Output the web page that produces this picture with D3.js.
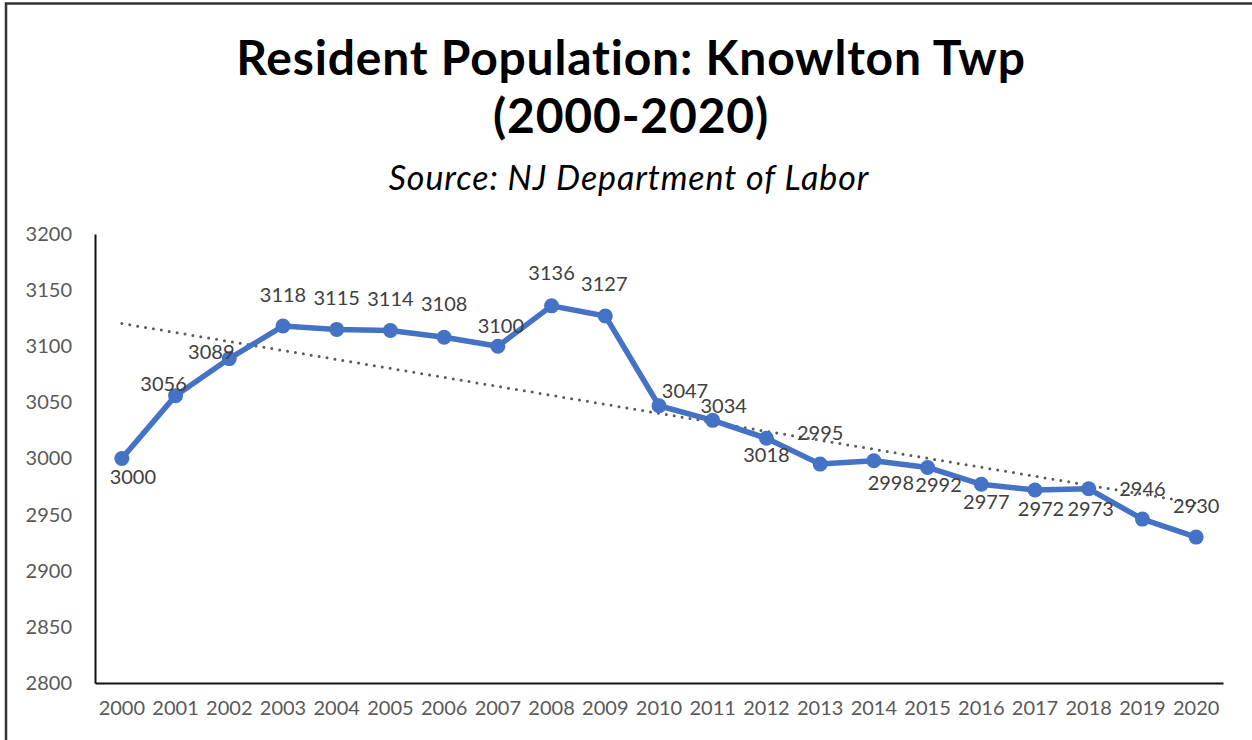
<!DOCTYPE html>
<html>
<head>
<meta charset="utf-8">
<script src="https://cdn.jsdelivr.net/npm/d3@7"></script>
<style>
    body { margin: 0; background: #fff; }
    text { font-family: Lato, "Open Sans", sans-serif; font-variant-ligatures: none; }
</style>
</head>
<body>
<div id="chart"></div>
<script>
const years = ["2000", "2001", "2002", "2003", "2004", "2005", "2006", "2007", "2008", "2009", "2010",
    "2011", "2012", "2013", "2014", "2015", "2016", "2017", "2018", "2019", "2020"];
const population = [3000, 3056, 3089, 3118, 3115, 3114, 3108, 3100, 3136, 3127, 3047,
    3034, 3018, 2995, 2998, 2992, 2977, 2972, 2973, 2946, 2930];
const yTicks = [2800, 2850, 2900, 2950, 3000, 3050, 3100, 3150, 3200];

const titleLines = ["Resident Population: Knowlton Twp", "(2000-2020)"];
const subtitle = "Source: NJ Department of Labor";

// where Excel put each data label, relative to its point
const labelOffset = {
    "2000": [11, 18], "2001": [-12, -12], "2002": [-18, -7], "2003": [0, -31], "2004": [0, -31],
    "2005": [0, -32], "2006": [0, -33], "2007": [3, -20], "2008": [0, -33], "2009": [-1, -32],
    "2010": [26, -15], "2011": [11, -14], "2012": [0, 17], "2013": [0, -31], "2014": [17, 22],
    "2015": [11, 18], "2016": [5, 18], "2017": [6, 19], "2018": [2, 20], "2019": [0, -30],
    "2020": [0, -31]
};

const W = 1252, H = 740;
const plot = { left: 95, right: 1223, top: 234, bottom: 683 };

const svg = d3.select("#chart")
    .append("svg")
    .attr("width", W)
    .attr("height", H);

svg.append("rect")
    .attr("x", 6).attr("y", 3.5)
    .attr("width", W + 20).attr("height", H + 20)
    .attr("fill", "#fff")
    .attr("stroke", "#333")
    .attr("stroke-width", 2.5);

// titles
svg.selectAll(".title")
    .data(titleLines)
    .enter()
    .append("text")
    .attr("class", "title")
    .attr("x", 631)
    .attr("y", (d, i) => 75 + i * 58)
    .attr("text-anchor", "middle")
    .attr("font-size", 48)
    .attr("font-weight", "bold")
    .attr("letter-spacing", 0.8)
    .attr("fill", "#000")
    .text(d => d);

svg.append("text")
    .attr("x", 629)
    .attr("y", 190)
    .attr("text-anchor", "middle")
    .attr("font-size", 34)
    .attr("font-style", "italic")
    .attr("letter-spacing", 0.9)
    .attr("fill", "#000")
    .text(subtitle);

const x = d3.scaleBand()
    .domain(years)
    .range([plot.left, plot.right]);

const y = d3.scaleLinear()
    .domain([2800, 3200])
    .range([plot.bottom, plot.top]);

const cx = d => x(d) + x.bandwidth() / 2;

// y axis
const yAxis = svg.append("g")
    .attr("transform", `translate(${plot.left},0)`)
    .call(d3.axisLeft(y).tickValues(yTicks).tickSize(0).tickPadding(23).tickFormat(d3.format("d")));
yAxis.select(".domain").attr("stroke", "#111").attr("stroke-width", 2);
yAxis.selectAll("text").attr("font-size", 20).attr("fill", "#595959")
    .style("font-family", "Lato, sans-serif");

// x axis
const xAxis = svg.append("g")
    .attr("transform", `translate(0,${plot.bottom})`)
    .call(d3.axisBottom(x).tickSize(0).tickPadding(18));
xAxis.select(".domain").attr("stroke", "#111").attr("stroke-width", 2);
xAxis.selectAll("text").attr("font-size", 20).attr("fill", "#595959")
    .style("font-family", "Lato, sans-serif");

// linear trendline
const idx = population.map((v, i) => i);
const meanX = d3.mean(idx), meanY = d3.mean(population);
const slope = d3.sum(idx, i => (i - meanX) * (population[i] - meanY)) / d3.sum(idx, i => (i - meanX) ** 2);
const intercept = meanY - slope * meanX;
const last = years.length - 1;

svg.append("line")
    .attr("x1", cx(years[0]))
    .attr("y1", y(intercept))
    .attr("x2", cx(years[last]))
    .attr("y2", y(intercept + slope * last))
    .attr("stroke", "#595959")
    .attr("stroke-width", 3)
    .attr("stroke-linecap", "round")
    .attr("stroke-dasharray", "0 8");

const series = years.map((yr, i) => ({ year: yr, value: population[i] }));

svg.append("path")
    .datum(series)
    .attr("fill", "none")
    .attr("stroke", "#4472C4")
    .attr("stroke-width", 5.5)
    .attr("stroke-linejoin", "round")
    .attr("d", d3.line()
        .x(d => cx(d.year))
        .y(d => y(d.value))
    );

svg.selectAll(".dot")
    .data(series)
    .enter()
    .append("circle")
    .attr("class", "dot")
    .attr("cx", d => cx(d.year))
    .attr("cy", d => y(d.value))
    .attr("r", 7.5)
    .attr("fill", "#4472C4");

svg.selectAll(".label")
    .data(series)
    .enter()
    .append("text")
    .attr("class", "label")
    .attr("x", d => cx(d.year) + labelOffset[d.year][0])
    .attr("y", d => y(d.value) + labelOffset[d.year][1])
    .attr("dy", "0.35em")
    .attr("text-anchor", "middle")
    .attr("font-size", 20)
    .attr("fill", "#404040")
    .text(d => d.value);
</script>
</body>
</html>
